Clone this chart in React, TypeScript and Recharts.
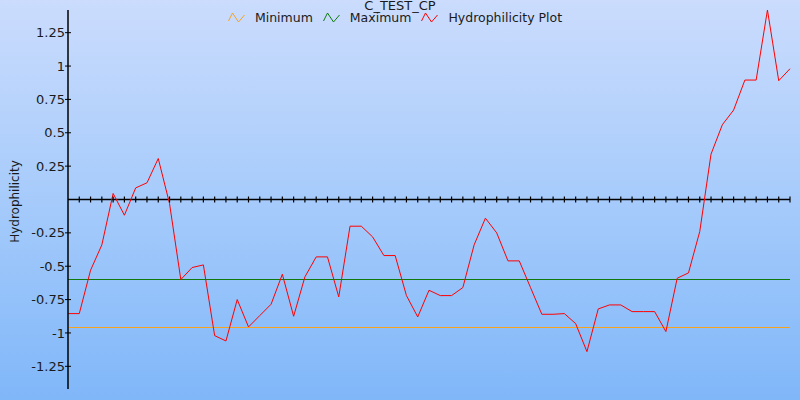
import React from "react";
import {
  LineChart,
  Line,
  XAxis,
  YAxis,
  ReferenceLine,
  Legend,
} from "recharts";

// values, one per residue window
const HYDROPHILICITY = [
  -0.855, -0.855, -0.53, -0.34, 0.045, -0.118, 0.087, 0.125, 0.307, -0.03,
  -0.6, -0.51, -0.49, -1.02, -1.06, -0.75, -0.955, -0.87, -0.785, -0.56,
  -0.875, -0.58, -0.43, -0.43, -0.73, -0.2, -0.2, -0.28, -0.42, -0.42,
  -0.72, -0.88, -0.68, -0.72, -0.72, -0.66, -0.34, -0.14, -0.25, -0.46,
  -0.46, -0.66, -0.86, -0.86, -0.855, -0.93, -1.14, -0.82, -0.79, -0.79,
  -0.84, -0.84, -0.84, -0.99, -0.59, -0.55, -0.24, 0.34, 0.56, 0.67,
  0.895, 0.895, 1.42, 0.89, 0.98,
];
const MINIMUM = -0.96;
const MAXIMUM = -0.6;
const Y_TICKS = [1.25, 1, 0.75, 0.5, 0.25, -0.25, -0.5, -0.75, -1, -1.25];
const Y_DOMAIN = [-1.42, 1.42];
const TITLE = "C_TEST_CP";
const LEGEND_ORDER = ["Minimum", "Maximum", "Hydrophilicity Plot"];

const data = HYDROPHILICITY.map((v, i) => ({ idx: i, hydro: v }));
const lastIdx = HYDROPHILICITY.length - 1;
const xTicks = HYDROPHILICITY.map((_, i) => i).slice(1);
const minData = [{ idx: 0, min: MINIMUM }, { idx: lastIdx, min: MINIMUM }];
const maxData = [{ idx: 0, max: MAXIMUM }, { idx: lastIdx, max: MAXIMUM }];

const WIDTH = 800;
const HEIGHT = 400;
const X_AXIS_H = 1;
const MARGIN = { top: 10, right: 10, left: 0, bottom: 10 };
// y = 0 sits in the middle of the plot since the domain is symmetric
const PLOT_H = HEIGHT - MARGIN.top - MARGIN.bottom - X_AXIS_H;
const FONT = "'DejaVu Sans', Verdana, sans-serif";

const YTick = (props: any) => {
  const { x, y, payload } = props;
  return (
    <g>
      <line x1={x - 3} x2={x + 3} y1={y} y2={y} stroke="#000" strokeWidth={1} />
      <text x={x - 3} y={y} dy="0.35em" textAnchor="end" fontSize={13} fill="#1a1a1a" fontFamily={FONT}>
        {String(payload.value)}
      </text>
    </g>
  );
};

const renderXTick = (props: any) => {
  const { x, index } = props;
  const y0 = MARGIN.top + PLOT_H / 2;
  return (
    <line key={`xt-${index}`} x1={x} x2={x} y1={y0 - 3} y2={y0 + 3} stroke="#000" strokeWidth={1.2} />
  );
};

const ZigZag = ({ color }: { color: string }) => (
  <svg width={17} height={11} style={{ display: "block" }}>
    <polyline points="0.5,9 4.5,1 10.5,10 16.5,3" fill="none" stroke={color} strokeWidth={1} />
  </svg>
);

const LegendContent = (props: any) => {
  const items = [...(props.payload || [])].sort(
    (a: any, b: any) => LEGEND_ORDER.indexOf(a.value) - LEGEND_ORDER.indexOf(b.value)
  );
  return (
    <div style={{ display: "flex", justifyContent: "center", alignItems: "center", fontFamily: FONT, fontSize: 12.5, color: "#1a1a1a" }}>
      {items.map((it: any) => (
        <div key={it.value} style={{ display: "flex", alignItems: "center", marginRight: 10 }}>
          <ZigZag color={it.color} />
          <span style={{ marginLeft: 10 }}>{it.value}</span>
        </div>
      ))}
    </div>
  );
};

const YLabel = (props: any) => {
  const vb = props.viewBox || { x: 0, y: 0, height: 0 };
  const cx = 15;
  const cy = vb.y + vb.height / 2 + 2;
  return (
    <text x={cx} y={cy} transform={`rotate(-90 ${cx} ${cy})`} textAnchor="middle" dy="0.35em" fontSize={12} fill="#1a1a1a" fontFamily={FONT}>
      Hydrophilicity
    </text>
  );
};

export default function App() {
  return (
    <div
      style={{
        position: "absolute",
        left: 0,
        top: 0,
        width: WIDTH,
        height: HEIGHT,
        background: "linear-gradient(to bottom, #cbdcfd 0%, #a6cbfb 50%, #80b7f9 100%)",
        overflow: "hidden",
      }}
    >
      <div
        style={{
          position: "absolute",
          top: 1,
          left: 0,
          width: WIDTH,
          textAlign: "center",
          fontFamily: FONT,
          fontSize: 13,
          lineHeight: "9px",
          color: "#1a1a1a",
          zIndex: 2,
        }}
      >
        {TITLE}
      </div>
      <LineChart width={WIDTH} height={HEIGHT} data={data} margin={MARGIN}>
        <XAxis
          dataKey="idx"
          type="number"
          domain={[0, lastIdx]}
          ticks={xTicks}
          interval={0}
          height={X_AXIS_H}
          tickSize={0}
          tickMargin={0}
          axisLine={false}
          tickLine={false}
          tick={renderXTick}
        />
        <YAxis
          type="number"
          domain={Y_DOMAIN}
          ticks={Y_TICKS}
          interval={0}
          width={68}
          tickSize={0}
          tickMargin={0}
          tickLine={false}
          axisLine={{ stroke: "#000", strokeWidth: 1.5 }}
          tick={<YTick />}
          label={{ content: <YLabel /> }}
        />
        <ReferenceLine y={0} stroke="#000" strokeWidth={1.5} />
        <Legend
          verticalAlign="middle"
          layout="horizontal"
          content={<LegendContent />}
          wrapperStyle={{ top: 10, left: 0, width: WIDTH, height: 16 }}
        />
        <Line
          data={minData}
          dataKey="min"
          name="Minimum"
          stroke="#f5a31e"
          strokeWidth={1.5}
          shapeRendering="crispEdges"
          dot={false}
          isAnimationActive={false}
        />
        <Line
          data={maxData}
          dataKey="max"
          name="Maximum"
          stroke="#0e7a0e"
          strokeWidth={1.5}
          shapeRendering="crispEdges"
          dot={false}
          isAnimationActive={false}
        />
        <Line
          dataKey="hydro"
          name="Hydrophilicity Plot"
          type="linear"
          stroke="#ff0000"
          strokeWidth={1}
          dot={false}
          isAnimationActive={false}
        />
      </LineChart>
    </div>
  );
}
